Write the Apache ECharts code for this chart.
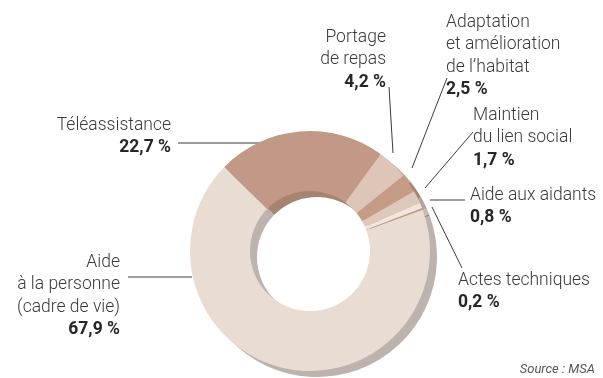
<!DOCTYPE html>
<html>
<head>
<meta charset="utf-8">
<script src="https://cdn.jsdelivr.net/npm/echarts@6/dist/echarts.min.js"></script>
<style>
  html, body { margin: 0; padding: 0; background: #fff; }
  #chart { width: 603px; height: 378px; }
</style>
</head>
<body>
<div id="chart"></div>
<script>
// Répartition des prestations (en %), dans l'ordre horaire à partir de la Téléassistance
const categories = [
  'Téléassistance',
  'Portage\nde repas',
  'Adaptation\net amélioration\nde l\u2019habitat',
  'Maintien\ndu lien social',
  'Aide aux aidants',
  'Actes techniques',
  'Aide\nà la personne\n(cadre de vie)'
];
const values = [22.7, 4.2, 2.5, 1.7, 0.8, 0.2, 67.9];

// Couleurs de la face supérieure et du flanc de l'anneau
const faceColors = ['#c19986', '#ddc5b8', '#c59b86', '#dec8bb', '#f0e6df', '#c4957f', '#e8dcd3'];
const sideColors = ['#a6846f', '#b8a497', '#a6846f', '#b8a497', '#c6bcb6', '#a6846f', '#bcb3ae'];

// Placement des étiquettes et de leurs traits de rappel
const labelPlaces = [
  { x: 171, y: 114, align: 'right', line: [[276, 143], [276, 143], [178, 143]] },
  { x: 386, y: 26,  align: 'right', line: [[393, 153], [393, 153], [389, 87]] },
  { x: 446, y: 11,  align: 'left',  line: [[412, 168], [412, 168], [447, 78]] },
  { x: 473, y: 104, align: 'left',  line: [[425, 188], [425, 188], [473, 132]] },
  { x: 470, y: 184, align: 'left',  line: [[430, 200], [430, 200], [465, 200]] },
  { x: 458, y: 269, align: 'left',  line: [[432, 207], [432, 207], [462, 268]] },
  { x: 120, y: 251, align: 'right', line: [[192, 277], [192, 277], [128, 277]] }
];

const fmt = v => v.toFixed(1).replace('.', ',') + ' %';

const faceData = categories.map((c, i) => ({ name: c, value: values[i], itemStyle: { color: faceColors[i] } }));
const sideData = categories.map((c, i) => ({ name: c, value: values[i], itemStyle: { color: sideColors[i] } }));

const FONT = 'Roboto, "Liberation Sans", sans-serif';

const chart = echarts.init(document.getElementById('chart'), null, { renderer: 'canvas' });
chart.setOption({
  animation: false,
  backgroundColor: '#fff',
  series: [
    {
      // flanc (épaisseur) de l'anneau
      type: 'pie',
      silent: true,
      z: 1,
      center: [317, 257],
      radius: [60, 120],
      startAngle: 135.7,
      clockwise: true,
      avoidLabelOverlap: false,
      label: { show: false },
      labelLine: { show: false },
      data: sideData
    },
    {
      type: 'pie',
      silent: true,
      z: 2,
      center: [310, 251],
      radius: [60, 120],
      startAngle: 135.7,
      clockwise: true,
      avoidLabelOverlap: false,
      itemStyle: { borderWidth: 0 },
      label: {
        show: true,
        position: 'outside',
        fontFamily: FONT,
        fontWeight: 300,
        fontSize: 17.5,
        lineHeight: 22.5,
        color: '#3a3a3a',
        formatter: p => p.name + '\n{v|' + fmt(p.value) + '}',
        rich: {
          v: {
            fontFamily: FONT,
            fontWeight: 'bold',
            fontSize: 17.5,
            lineHeight: 22.5,
            color: '#262626'
          }
        }
      },
      labelLine: { show: true, lineStyle: { color: '#3c3c3c', width: 1 } },
      labelLayout: p => {
        const L = labelPlaces[p.dataIndex];
        return { x: L.x, y: L.y, align: L.align, verticalAlign: 'top', labelLinePoints: L.line };
      },
      data: faceData
    }
  ],
  graphic: [
    {
      type: 'text',
      right: 8,
      top: 363,
      style: {
        text: 'Source : MSA',
        font: 'italic 13px ' + FONT,
        fill: '#555'
      }
    }
  ]
});
</script>
</body>
</html>
